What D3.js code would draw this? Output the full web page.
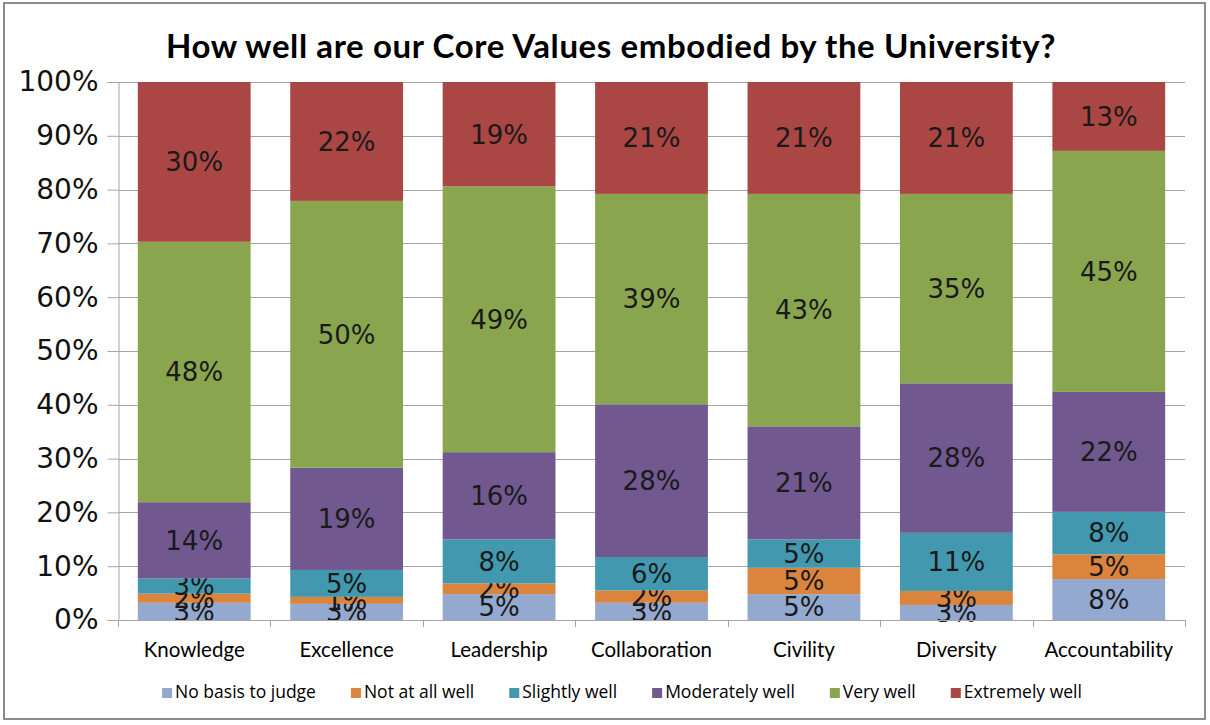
<!DOCTYPE html>
<html>
<head>
<meta charset="utf-8">
<script src="https://cdn.jsdelivr.net/npm/d3@7"></script>
<style>
  html, body { margin: 0; padding: 0; background: #fff; }
  svg { display: block; }
</style>
</head>
<body>
<svg id="chart" width="1210" height="725"></svg>
<script>
// ---- data ----
const categories = ["Knowledge", "Excellence", "Leadership", "Collaboration", "Civility", "Diversity", "Accountability"];
const seriesNames = ["No basis to judge", "Not at all well", "Slightly well", "Moderately well", "Very well", "Extremely well"];
const noBasis     = [3.2, 3.0, 4.8, 3.2, 4.8, 2.8, 7.6];
const notAtAll    = [1.7, 1.3, 2.0, 2.3, 4.9, 2.6, 4.6];
const slightly    = [2.8, 5.0, 8.2, 6.2, 5.3, 10.8, 7.9];
const moderately  = [14.2, 19.0, 16.2, 28.4, 21.0, 27.8, 22.3];
const veryWell    = [48.4, 49.6, 49.4, 39.1, 43.2, 35.2, 44.8];
const extremely   = [29.7, 22.1, 19.4, 20.8, 20.8, 20.8, 12.8];
const yTicks = [0, 10, 20, 30, 40, 50, 60, 70, 80, 90, 100];
const colors = ["#93A9CF", "#DB843D", "#4198AF", "#71588F", "#89A54E", "#AA4643"];
const title = "How well are our Core Values embodied by the University?";

const seriesValues = [noBasis, notAtAll, slightly, moderately, veryWell, extremely];

// ---- layout ----
const svg = d3.select("#chart");
const plot = { left: 118, right: 1185, top: 82, bottom: 620 };

// outer frame
svg.append("rect")
  .attr("x", 4).attr("y", 3).attr("width", 1201).attr("height", 716)
  .attr("fill", "#fff").attr("stroke", "#8c8c8c").attr("stroke-width", 2);

// title
svg.append("text")
  .attr("x", 611).attr("y", 58)
  .attr("text-anchor", "middle")
  .attr("font-family", "Lato, 'Open Sans', sans-serif")
  .attr("font-weight", "bold")
  .attr("font-size", 33)
  .attr("letter-spacing", 0.6)
  .attr("fill", "#000")
  .text(title);

const x = d3.scaleBand().domain(categories)
  .range([plot.left, plot.right])
  .paddingInner(0.26).paddingOuter(0.13);
const y = d3.scaleLinear().domain([0, 100]).range([plot.bottom, plot.top]);

// gridlines
svg.append("g").selectAll("line").data(yTicks.filter(d => d > 0)).join("line")
  .attr("x1", plot.left).attr("x2", plot.right)
  .attr("y1", d => Math.round(y(d)) + 0.5).attr("y2", d => Math.round(y(d)) + 0.5)
  .attr("stroke", "#a6a6a6").attr("stroke-width", 1);

// stacked data
const table = categories.map((c, i) => {
  const row = { category: c };
  seriesNames.forEach((s, j) => row[s] = seriesValues[j][i]);
  return row;
});
const stack = d3.stack().keys(seriesNames)(table);

const layers = svg.append("g").selectAll("g").data(stack).join("g")
  .attr("fill", (d, i) => colors[i]);
layers.selectAll("rect").data(d => d).join("rect")
  .attr("x", d => x(d.data.category))
  .attr("width", x.bandwidth())
  .attr("y", d => y(d[1]))
  .attr("height", d => y(d[0]) - y(d[1]));

// y axis
const yAxis = d3.axisLeft(y).tickValues(yTicks).tickFormat(d => d + "%").tickSize(11).tickPadding(9);
const gy = svg.append("g").attr("transform", `translate(${plot.left + 0.5},0)`).call(yAxis);
gy.select(".domain").attr("stroke", "#a6a6a6");
gy.selectAll(".tick line").attr("stroke", "#a6a6a6");
gy.selectAll(".tick text")
  .attr("font-family", "'DejaVu Sans', sans-serif")
  .attr("font-size", 28).attr("fill", "#111");

// x axis
const xAxis = d3.axisBottom(x).tickSize(0).tickPadding(22);
const gx = svg.append("g").attr("transform", `translate(0,${plot.bottom + 0.5})`).call(xAxis);
gx.select(".domain").attr("stroke", "#a6a6a6").attr("d", `M${plot.left},0H${plot.right}`);
gx.selectAll(".tick text")
  .attr("font-family", "Lato, 'Open Sans', sans-serif")
  .attr("font-size", 20.5).attr("fill", "#000");
// category boundary ticks
const bounds = categories.map((c) => x(c) - x.step() * x.paddingInner() / 2).concat([plot.right]);
svg.append("g").selectAll("line").data(bounds).join("line")
  .attr("x1", d => Math.round(d) + 0.5).attr("x2", d => Math.round(d) + 0.5)
  .attr("y1", plot.bottom).attr("y2", plot.bottom + 7)
  .attr("stroke", "#a6a6a6");

// value labels
const fmt = d3.format(".0f");
layers.each(function(layer) {
  d3.select(this).selectAll("text").data(layer).join("text")
    .attr("x", d => x(d.data.category) + x.bandwidth() / 2)
    .attr("y", d => (y(d[0]) + y(d[1])) / 2)
    .attr("dy", "0.36em")
    .attr("text-anchor", "middle")
    .attr("font-family", "'DejaVu Sans', sans-serif")
    .attr("font-size", 26)
    .attr("fill", "#1a1a1a")
    .text(d => fmt(d[1] - d[0]) + "%");
});

// legend
const legend = svg.append("g").attr("font-family", "'Liberation Sans Narrow', 'Open Sans', sans-serif").attr("font-size", 17.5);
const items = legend.selectAll("g").data(seriesNames).join("g");
items.append("rect").attr("width", 10).attr("height", 10).attr("y", -10).attr("fill", (d, i) => colors[i]);
items.append("text").attr("x", 13).attr("y", 0).attr("fill", "#000").text(d => d);
let cx = 0;
const gap = 35;
items.each(function() {
  const w = this.getBBox().width;
  d3.select(this).attr("transform", `translate(${cx},698)`);
  cx += w + gap;
});
const totalW = cx - gap;
legend.attr("transform", `translate(${622 - totalW / 2},0)`);
</script>
</body>
</html>
